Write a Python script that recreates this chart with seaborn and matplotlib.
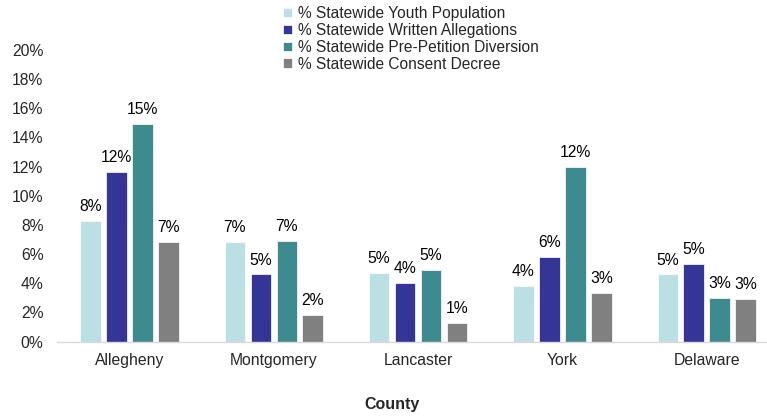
import matplotlib
matplotlib.use("Agg")
import matplotlib.pyplot as plt
import seaborn as sns
import pandas as pd

counties = ["Allegheny", "Montgomery", "Lancaster", "York", "Delaware"]
series = [
    "% Statewide Youth Population",
    "% Statewide Written Allegations",
    "% Statewide Pre-Petition Diversion",
    "% Statewide Consent Decree",
]
youth_population = [8.3, 6.8, 4.7, 3.8, 4.6]
written_allegations = [11.6, 4.6, 4.0, 5.8, 5.3]
pre_petition_diversion = [14.9, 6.9, 4.9, 12.0, 3.0]
consent_decree = [6.8, 1.8, 1.3, 3.3, 2.9]
y_ticks = [0, 2, 4, 6, 8, 10, 12, 14, 16, 18, 20]

colors = ["#BBE0E3", "#353597", "#3D8B8F", "#808080"]

values = [youth_population, written_allegations, pre_petition_diversion, consent_decree]
rows = []
for name, vals in zip(series, values):
    for county, v in zip(counties, vals):
        rows.append({"County": county, "Series": name, "Value": v})
df = pd.DataFrame(rows)

sns.set_theme(style="white")
plt.rcParams["font.family"] = ["Liberation Sans", "DejaVu Sans"]

fig = plt.figure(figsize=(7.67, 4.17), dpi=100)
ax = fig.add_axes([57.3 / 767, 1 - 341.5 / 417, 721.6 / 767, 291.5 / 417])

sns.barplot(
    data=df, x="County", y="Value", hue="Series", order=counties,
    hue_order=series, palette=colors, saturation=1, width=0.72, gap=0.21,
    edgecolor="white", linewidth=0.5, ax=ax, errorbar=None,
)

for container in ax.containers:
    ax.bar_label(container, labels=[f"{b.get_height():.0f}%" for b in container],
                 padding=5, fontsize=11.3, color="#000000")

ax.set_ylim(0, 20)
ax.set_yticks(y_ticks)
ax.set_yticklabels([f"{t}%" for t in y_ticks], fontsize=11.3)
ax.tick_params(axis="y", length=0, pad=10)
ax.tick_params(axis="x", length=0, pad=8, labelsize=11.3)
ax.set_xlabel("")
ax.set_ylabel("")
for side in ["left", "right", "top"]:
    ax.spines[side].set_visible(False)
ax.spines["bottom"].set_color("#D9D9D9")
ax.spines["bottom"].set_linewidth(1)

fig.text(392.5 / 767, 1 - 405 / 417, "County", ha="center", va="center",
         fontsize=11.5, fontweight="bold")

handles, labels = ax.get_legend_handles_labels()
ax.legend_.remove()
fig.legend(handles, labels, loc="upper left", bbox_to_anchor=(283 / 767, 1 - 6 / 417),
           frameon=False, fontsize=11.2, handlelength=0.55, handleheight=0.55,
           handletextpad=0.4, labelspacing=0.12, borderpad=0, borderaxespad=0)

fig.savefig("out.png", dpi=100)
